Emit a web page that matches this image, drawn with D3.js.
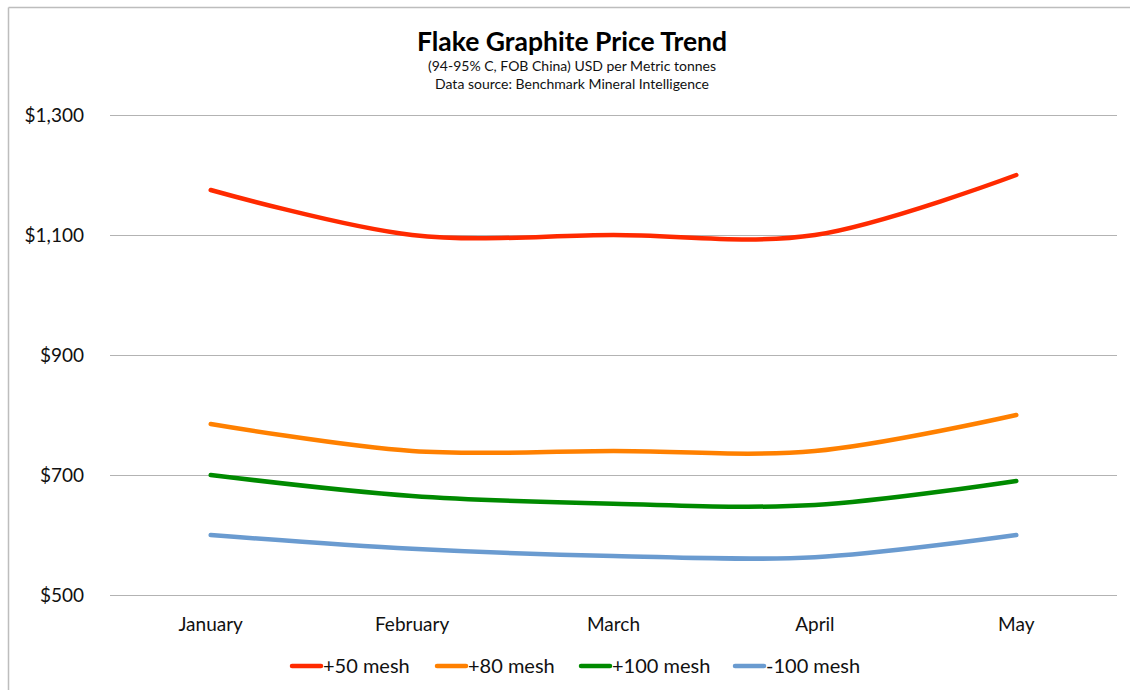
<!DOCTYPE html>
<html>
<head>
<meta charset="utf-8">
<script src="https://cdn.jsdelivr.net/npm/d3@7/dist/d3.min.js"></script>
<style>
  body { margin: 0; background: #fff; overflow: hidden; }
  svg { display: block; font-family: Lato, "Open Sans", sans-serif; }
  .grid line { stroke: #b3b3b3; stroke-width: 1.2; }
  .grid path { display: none; }
</style>
</head>
<body>
<script>
// chart data
var months = ["January", "February", "March", "April", "May"];
var mesh50 = [1175, 1100, 1100, 1100, 1200];
var mesh80 = [785, 740, 740, 740, 800];
var mesh100 = [700, 665, 652, 650, 690];
var minus100 = [600, 577, 565, 563, 600];
var seriesNames = ["+50 mesh", "+80 mesh", "+100 mesh", "-100 mesh"];
var seriesColors = ["#ff2a00", "#ff8000", "#008a00", "#6a9bd0"];
var yTicks = [500, 700, 900, 1100, 1300];

var allSeries = [mesh50, mesh80, mesh100, minus100];

var W = 1130, H = 690;
var margin = {top: 115, right: 13, bottom: 95, left: 110};

var svg = d3.select("body").append("svg")
  .attr("width", W)
  .attr("height", H);

// outer frame, only left and top edges show
svg.append("line")
  .attr("x1", 8.5).attr("x2", 8.5).attr("y1", 7.5).attr("y2", H)
  .attr("stroke", "#bdbdbd").attr("stroke-width", 1.5);
svg.append("line")
  .attr("x1", 8.5).attr("x2", W).attr("y1", 7.5).attr("y2", 7.5)
  .attr("stroke", "#bdbdbd").attr("stroke-width", 1.5);

var x = d3.scaleBand()
  .domain(months)
  .range([margin.left, W - margin.right]);

var y = d3.scaleLinear()
  .domain([500, 1300])
  .range([H - margin.bottom, margin.top]);

// gridlines
svg.append("g")
  .attr("class", "grid")
  .attr("transform", "translate(" + margin.left + ",0)")
  .call(d3.axisLeft(y).tickValues(yTicks)
    .tickSize(-(W - margin.left - margin.right)).tickFormat(""));

// y labels
var fmt = d3.format("$,");
svg.append("g").selectAll("text")
  .data(yTicks)
  .enter().append("text")
  .attr("x", 84)
  .attr("y", function(d) { return y(d); })
  .attr("dy", "0.35em")
  .attr("text-anchor", "end")
  .attr("font-size", 19)
  .attr("fill", "#111")
  .text(function(d) { return fmt(d); });

// x labels
svg.append("g").selectAll("text")
  .data(months)
  .enter().append("text")
  .attr("x", function(d) { return x(d) + x.bandwidth() / 2; })
  .attr("y", 631)
  .attr("text-anchor", "middle")
  .attr("font-size", 19)
  .attr("fill", "#111")
  .text(function(d) { return d; });

// lines
var line = d3.line()
  .x(function(d, i) { return x(months[i]) + x.bandwidth() / 2; })
  .y(function(d) { return y(d); })
  .curve(d3.curveCardinal.tension(0));

svg.append("g").selectAll("path")
  .data(allSeries)
  .enter().append("path")
  .attr("d", function(d) { return line(d); })
  .attr("fill", "none")
  .attr("stroke", function(d, i) { return seriesColors[i]; })
  .attr("stroke-width", 4.5)
  .attr("stroke-linecap", "round");

// title
svg.append("text")
  .attr("x", 572).attr("y", 51)
  .attr("text-anchor", "middle")
  .attr("font-size", 26.5)
  .attr("font-weight", "bold")
  .attr("fill", "#000")
  .text("Flake Graphite Price Trend");

svg.append("text")
  .attr("x", 572).attr("y", 71)
  .attr("text-anchor", "middle")
  .attr("font-size", 14)
  .attr("fill", "#111")
  .text("(94-95% C, FOB China) USD per Metric tonnes");

svg.append("text")
  .attr("x", 572).attr("y", 89)
  .attr("text-anchor", "middle")
  .attr("font-size", 14)
  .attr("fill", "#111")
  .text("Data source: Benchmark Mineral Intelligence");

// legend
var legendX = [290, 435, 579, 733];
var legend = svg.append("g").selectAll("g")
  .data(seriesNames)
  .enter().append("g")
  .attr("transform", function(d, i) { return "translate(" + legendX[i] + ",666)"; });

legend.append("line")
  .attr("x1", 2).attr("x2", 31)
  .attr("stroke", function(d, i) { return seriesColors[i]; })
  .attr("stroke-width", 4.5)
  .attr("stroke-linecap", "round");

legend.append("text")
  .attr("x", 33)
  .attr("dy", "0.35em")
  .attr("font-size", 20)
  .attr("fill", "#111")
  .text(function(d) { return d; });
</script>
</body>
</html>
